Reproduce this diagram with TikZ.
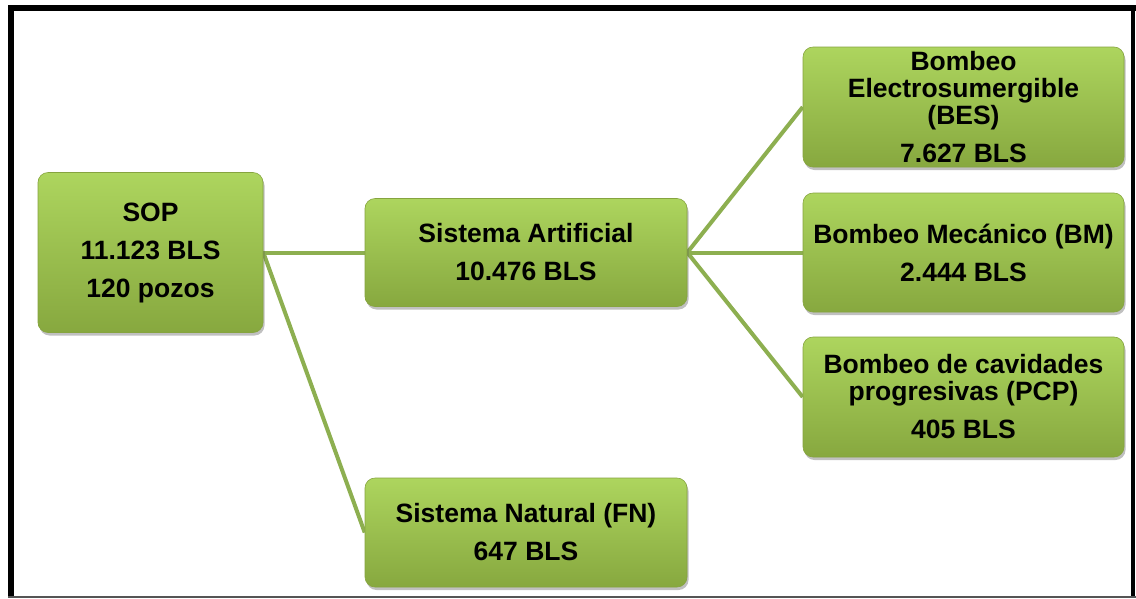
\documentclass[tikz,border=0pt]{standalone}
\usepackage{fontspec}
\setmainfont{Liberation Sans}
\usetikzlibrary{shadows,backgrounds}
\definecolor{boxtop}{HTML}{ADD55E}
\definecolor{boxbottom}{HTML}{87A83F}
\definecolor{boxedge}{HTML}{86A43F}
\definecolor{linkgreen}{HTML}{8DAF50}
\definecolor{framegrey}{HTML}{555555}
\begin{document}
\begin{tikzpicture}[x=1pt,y=-1pt,
  box/.style={rounded corners=10pt, top color=boxtop, bottom color=boxbottom,
    draw=boxedge, line width=0.6pt,
    drop shadow={shadow xshift=1.5pt, shadow yshift=-3pt, opacity=0.35, fill=black!70},
    align=center, inner sep=0pt, text=black,
    font=\fontsize{26.5}{27}\selectfont\bfseries},
  link/.style={draw=linkgreen, line width=4pt}]

\path[use as bounding box] (0,0) rectangle (1136,598);

% frame
\fill[black] (8,5) rectangle (1136,11);
\fill[black] (8,5) rectangle (14,598);
\fill[black] (1131,5) rectangle (1135,598);
\fill[framegrey] (8,596) rectangle (1136,598);

% boxes
\node[box, minimum width=225pt, minimum height=160pt] (sop) at (150.5,252.5)
  {SOP\\[11pt]11.123 BLS\\[11pt]120 pozos};
\node[box, minimum width=322pt, minimum height=108pt] (art) at (526,252.5)
  {Sistema Artificial\\[11pt]10.476 BLS};
\node[box, minimum width=322pt, minimum height=109pt] (nat) at (526,532.5)
  {Sistema Natural (FN)\\[11pt]647 BLS};
\node[box, minimum width=321pt, minimum height=120pt] (bes) at (963.5,107)
  {Bombeo\\Electrosumergible\\(BES)\\[11pt]7.627 BLS};
\node[box, minimum width=321pt, minimum height=119pt] (bm) at (963.5,252.5)
  {Bombeo Mecánico (BM)\\[11pt]2.444 BLS};
\node[box, minimum width=321pt, minimum height=120pt] (pcp) at (963.5,397)
  {Bombeo de cavidades\\progresivas (PCP)\\[11pt]405 BLS};

% connectors
\begin{pgfonlayer}{background}
  \fill[white] (0,0) rectangle (1136,598);
  \draw[link] (sop.east) -- (art.west);
  \draw[link] (sop.east) -- (nat.west);
  \draw[link] (art.east) -- (bes.west);
  \draw[link] (art.east) -- (bm.west);
  \draw[link] (art.east) -- (pcp.west);
\end{pgfonlayer}
\end{tikzpicture}
\end{document}
